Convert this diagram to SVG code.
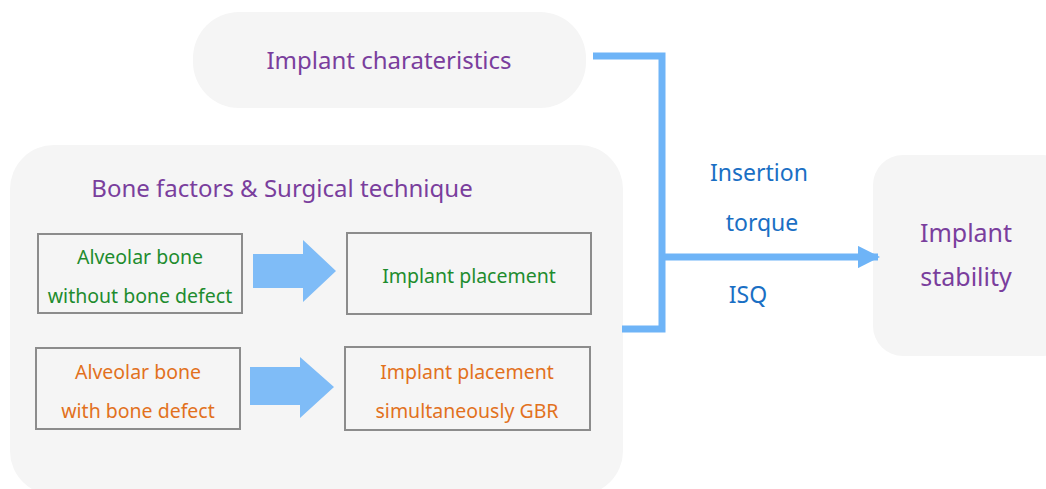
<svg xmlns="http://www.w3.org/2000/svg" width="1046" height="489" viewBox="0 0 1046 489">
<style>
.panel{fill:#f5f5f5}
.box{fill:none;stroke:#8c8c8c;stroke-width:2}
.conn{fill:none;stroke:#6eb4f7;stroke-width:7}
.blk{fill:#7fbcf7}
text{font-family:"Noto Sans","Liberation Sans",sans-serif;text-anchor:middle;dominant-baseline:central}
.pu{fill:#7a3e9d;font-size:24px}
.pu2{fill:#7a3e9d;font-size:25px}
.gr{fill:#1e8c2e;font-size:19.5px}
.or{fill:#e2711d;font-size:19.5px}
.bl{fill:#1a6fc4;font-size:23px}
</style>
<defs>
<marker id="ah" viewBox="0 0 10 10" refX="9" refY="5" markerWidth="3.2" markerHeight="3.2" orient="auto" markerUnits="strokeWidth">
<path d="M0,0 L10,5 L0,10 Z" fill="#6eb4f7"/>
</marker>
</defs>
<g id="implant-characteristics">
<rect class="panel" x="193" y="12" width="393" height="96" rx="46"/>
<text class="pu" x="389" y="59">Implant charateristics</text>
</g>
<g id="bone-factors">
<rect class="panel" x="10" y="145" width="613" height="350" rx="44"/>
<text class="pu" x="282" y="187">Bone factors &amp; Surgical technique</text>
</g>
<g id="alveolar-no-defect">
<rect class="box" x="38" y="234" width="204" height="79"/>
<text class="gr" x="140" y="256">Alveolar bone</text>
<text class="gr" x="140" y="295">without bone defect</text>
</g>
<g id="implant-placement">
<rect class="box" x="347" y="233" width="244" height="81"/>
<text class="gr" x="469" y="275">Implant placement</text>
</g>
<g id="alveolar-defect">
<rect class="box" x="36" y="348" width="204" height="81"/>
<text class="or" x="138" y="371">Alveolar bone</text>
<text class="or" x="138" y="410">with bone defect</text>
</g>
<g id="implant-placement-gbr">
<rect class="box" x="345" y="347" width="245" height="83"/>
<text class="or" x="467" y="371">Implant placement</text>
<text class="or" x="467" y="410">simultaneously GBR</text>
</g>
<g id="implant-stability">
<rect class="panel" x="873" y="155" width="200" height="201" rx="30"/>
<text class="pu2" x="966" y="232">Implant</text>
<text class="pu2" x="966" y="276">stability</text>
</g>
<g id="connectors">
<path class="blk" d="M253,254 H303 V240 L336,271 L303,302 V288 H253 Z"/>
<path class="blk" d="M250,367 H300 V357 L334,387 L300,418 V405 H250 Z"/>
<path class="conn" d="M593,56 H662 V329 H622"/>
<path class="conn" d="M662,257 H878" marker-end="url(#ah)"/>
<text class="bl" x="759" y="172">Insertion</text>
<text class="bl" x="762" y="222">torque</text>
<text class="bl" x="748" y="294">ISQ</text>
</g>
</svg>
